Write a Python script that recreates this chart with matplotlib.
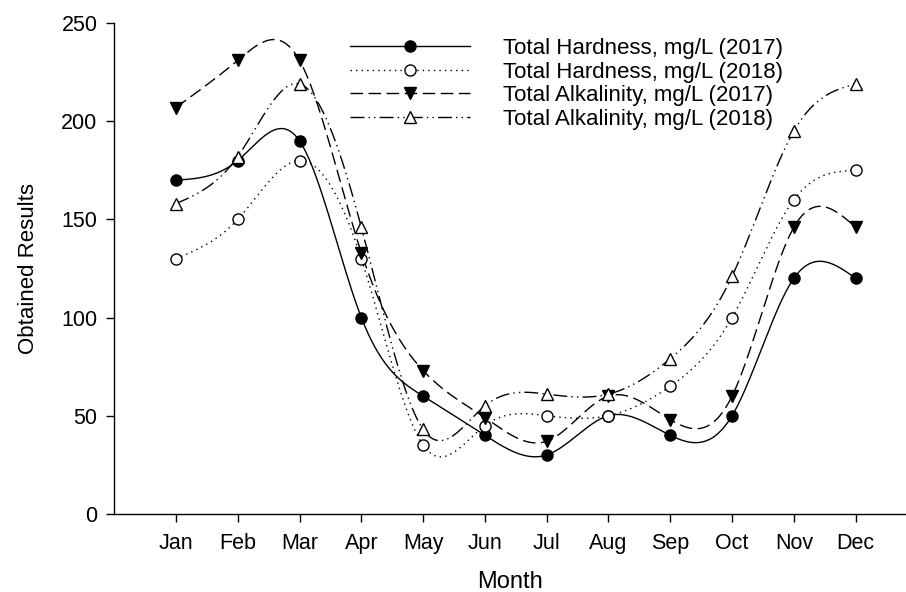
import numpy as np
import matplotlib
matplotlib.use("Agg")
import matplotlib.pyplot as plt
from matplotlib.lines import Line2D

months = ["Jan", "Feb", "Mar", "Apr", "May", "Jun", "Jul", "Aug", "Sep", "Oct", "Nov", "Dec"]
hardness_2017 = [170, 180, 190, 100, 60, 40, 30, 50, 40, 50, 120, 120]
hardness_2018 = [130, 150, 180, 130, 35, 45, 50, 50, 65, 100, 160, 175]
alkalinity_2017 = [207, 231, 231, 133, 73, 49, 37, 60, 48, 60, 146, 146]
alkalinity_2018 = [158, 182, 219, 146, 43, 55, 61, 61, 79, 121, 195, 219]
labels = ["Total Hardness, mg/L (2017)", "Total Hardness, mg/L (2018)",
          "Total Alkalinity, mg/L (2017)", "Total Alkalinity, mg/L (2018)"]


def natural_spline(x, y, n=400):
    x = np.asarray(x, float)
    y = np.asarray(y, float)
    m = len(x)
    h = np.diff(x)
    A = np.zeros((m, m))
    b = np.zeros(m)
    A[0, 0] = 1
    A[-1, -1] = 1
    for i in range(1, m - 1):
        A[i, i - 1] = h[i - 1]
        A[i, i] = 2 * (h[i - 1] + h[i])
        A[i, i + 1] = h[i]
        b[i] = 6 * ((y[i + 1] - y[i]) / h[i] - (y[i] - y[i - 1]) / h[i - 1])
    M = np.linalg.solve(A, b)
    xs = np.linspace(x[0], x[-1], n)
    idx = np.clip(np.searchsorted(x, xs) - 1, 0, m - 2)
    x0, x1 = x[idx], x[idx + 1]
    hh = x1 - x0
    t0 = x1 - xs
    t1 = xs - x0
    ys = (M[idx] * t0 ** 3 / (6 * hh) + M[idx + 1] * t1 ** 3 / (6 * hh)
          + (y[idx] / hh - M[idx] * hh / 6) * t0
          + (y[idx + 1] / hh - M[idx + 1] * hh / 6) * t1)
    return xs, ys


plt.rcParams['font.family'] = ['Liberation Sans', 'DejaVu Sans']
fig = plt.figure(figsize=(9.06, 5.92), dpi=100)
ax = fig.add_axes([0.126, 0.132, 0.873, 0.829])

x = np.arange(1, 13)
series = [hardness_2017, hardness_2018, alkalinity_2017, alkalinity_2018]
styles = [
    dict(ls='-', marker='o', mfc='black'),
    dict(ls=(0, (1, 3)), marker='o', mfc='white'),
    dict(ls=(0, (9, 4)), marker='v', mfc='black'),
    dict(ls=(0, (10, 3, 1, 3, 1, 3)), marker='^', mfc='white'),
]
handles = []
for vals, st, lab in zip(series, styles, labels):
    xs, ys = natural_spline(x, vals)
    ax.plot(xs, ys, color='black', lw=1.0, ls=st['ls'], zorder=2)
    ax.plot(x, vals, ls='none', marker=st['marker'], mfc=st['mfc'], mec='black',
            ms=8, mew=1.0, zorder=3)
    handles.append(Line2D([], [], color='black', lw=1.0, ls=st['ls'], marker=st['marker'],
                          mfc=st['mfc'], mec='black', ms=8, mew=1.0))

ax.set_xlim(0, 12.8)
ax.set_ylim(0, 250)
ax.set_xticks(x)
ax.set_xticklabels(months)
ax.set_yticks([0, 50, 100, 150, 200, 250])
for s in ['top', 'right']:
    ax.spines[s].set_visible(False)
ax.spines['left'].set_linewidth(1.0)
ax.spines['bottom'].set_linewidth(1.0)
ax.tick_params(direction='out', length=6, width=1, labelsize=15.5, colors='black')
ax.tick_params(axis='y', pad=6)
ax.tick_params(axis='x', pad=8)
ax.set_xlabel("Month", fontsize=17, labelpad=12)
ax.set_ylabel("Obtained Results", fontsize=16, labelpad=16)

fig.legend(handles, labels, loc='upper left', bbox_to_anchor=(0.386, 0.936),
           frameon=False, fontsize=16, handlelength=5.4, handletextpad=1.5,
           labelspacing=0.12, borderaxespad=0, borderpad=0, numpoints=1)

fig.savefig("out.png", dpi=100)
